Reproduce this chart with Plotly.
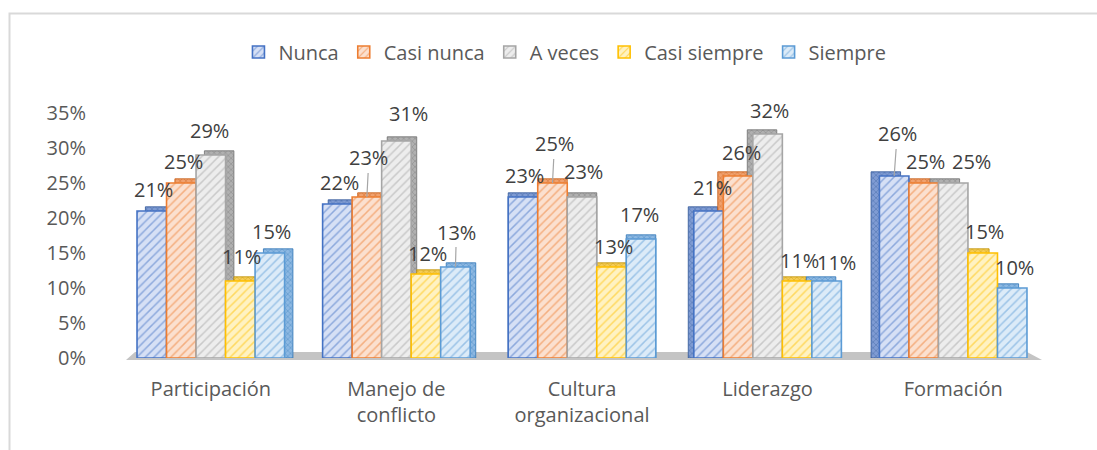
import plotly.graph_objects as go

# ---------------- data ----------------
categories = ["Participación", "Manejo de<br>conflicto", "Cultura<br>organizacional",
              "Liderazgo", "Formación"]
series_names = ["Nunca", "Casi nunca", "A veces", "Casi siempre", "Siempre"]
nunca = [21, 22, 23, 21, 26]
casi_nunca = [25, 23, 25, 26, 25]
a_veces = [29, 31, 23, 32, 25]
casi_siempre = [11, 12, 13, 11, 15]
siempre = [15, 13, 17, 11, 10]
y_tick_values = [0, 5, 10, 15, 20, 25, 30, 35]

series_values = [nunca, casi_nunca, a_veces, casi_siempre, siempre]

# ---------------- style ----------------
W, H = 1097, 450
line_colors = ["#4472C4", "#ED7D31", "#A5A5A5", "#FFC000", "#5B9BD5"]
fill_colors = ["#D6E0F5", "#FBE0CF", "#EDEDED", "#FFF2C2", "#DCEBF8"]
side_bg = ["#7F9BD3", "#F0A16E", "#B0B0B0", "#F5CC55", "#8DB8E2"]
side_fg = ["#2F5597", "#C55A11", "#6F6F6F", "#BF9000", "#2E75B6"]
FONT = "Open Sans"
TXT = "#404040"
TICK = "#595959"

x_left_px, x_right_px = 118, 1046
y_base_px, y_top_px = 358, 113
bargap = 0.205
n_cat = len(categories)
n_ser = len(series_names)
cat_px = (x_right_px - x_left_px) / n_cat
bar_w = (1 - bargap) / n_ser            # in category units
bar_px = cat_px * bar_w
depth_val = 0.6                           # top-face depth (axis units)
side_shift = [0.045, 0.03, 0.0, -0.03, -0.045]  # 3D side direction per category

fig = go.Figure()
# 3D faces (drawn behind the fronts)
for i, name in enumerate(series_names):
    base_off = -(1 - bargap) / 2 + i * bar_w
    fig.add_trace(go.Bar(
        name=name + " 3d", x=categories,
        y=[v + depth_val for v in series_values[i]],
        width=bar_w, offset=[base_off + s for s in side_shift],
        marker=dict(color=side_bg[i], line=dict(color=side_fg[i], width=0.8),
                    pattern=dict(shape="x", fgcolor=side_fg[i], bgcolor=side_bg[i],
                                 size=4, solidity=0.3, fillmode="overlay")),
        showlegend=False, hoverinfo="skip",
    ))
# front faces
for i, name in enumerate(series_names):
    base_off = -(1 - bargap) / 2 + i * bar_w
    fig.add_trace(go.Bar(
        name=name, x=categories, y=series_values[i],
        width=bar_w, offset=base_off,
        marker=dict(
            color=fill_colors[i],
            line=dict(color=line_colors[i], width=1.6),
            pattern=dict(shape="/", fgcolor=line_colors[i], bgcolor=fill_colors[i],
                         size=6, solidity=0.25, fillmode="overlay"),
        ),
        hoverinfo="skip",
    ))

# label placement tweaks (presentation only): (category idx, series idx) -> (dx, dy, leader)
label_tweaks = {
    (1, 1): (2, -39, True),
    (1, 4): (1, -35, True),
    (2, 1): (2, -39, True),
    (4, 0): (3, -42, True),
    (1, 2): (12, -27, False),
    (3, 4): (10, -19, False),
    (4, 2): (18, -21, False),
    (0, 2): (-1, -24, False),
    (0, 3): (1, -25, False),
    (2, 2): (1, -25, False),
    (2, 4): (-2, -24, False),
    (3, 0): (4, -23, False),
    (3, 1): (3, -23, False),
    (3, 2): (2, -23, False),
}

annotations = []
for i in range(n_ser):
    for j in range(n_cat):
        v = series_values[i][j]
        dx, dy, leader = label_tweaks.get((j, i), (2, -21, False))
        base = dict(x=categories[j], y=v, xref="x", yref="y",
                    text=f"{v}%", font=dict(family=FONT, size=20, color=TXT),
                    xshift=(i - (n_ser - 1) / 2) * bar_px)
        if leader:
            base.update(showarrow=True, ax=dx, ay=dy, arrowhead=0, arrowwidth=1.2,
                        arrowcolor="#A6A6A6", standoff=0, startstandoff=0)
        else:
            base.update(showarrow=False, xshift=base["xshift"] + dx, yshift=-dy)
        annotations.append(base)

# floor and border decorations
def px(xp):
    return xp / W

def py(yp):
    return 1 - yp / H

shapes = [
    dict(type="path", xref="paper", yref="paper",
         path=f"M {px(126)} {py(360)} L {px(1042)} {py(360)} "
              f"L {px(1027)} {py(352)} L {px(135)} {py(352)} Z",
         fillcolor="#C4C4C4", line=dict(width=0), layer="below"),
    dict(type="rect", xref="paper", yref="paper",
         x0=px(9.5), x1=1.02, y0=-0.05, y1=py(13.5),
         line=dict(color="#D9D9D9", width=2), fillcolor="rgba(0,0,0,0)", layer="below"),
]

fig.update_layout(
    width=W, height=H,
    margin=dict(l=0, r=0, t=0, b=0, autoexpand=False),
    paper_bgcolor="white", plot_bgcolor="rgba(0,0,0,0)",
    barmode="overlay",
    font=dict(family=FONT, size=20, color=TICK),
    showlegend=True,
    legend=dict(orientation="h", x=0.515, xanchor="center", y=py(52), yanchor="middle",
                font=dict(family=FONT, size=20, color=TICK), itemwidth=30,
                bgcolor="rgba(0,0,0,0)", traceorder="normal"),
    xaxis=dict(domain=[px(x_left_px), px(x_right_px)], type="category",
               range=[-0.5, n_cat - 0.5],
               showgrid=False, showline=False, zeroline=False, ticks="",
               tickfont=dict(family=FONT, size=20, color=TICK),
               ticklabelstandoff=17, automargin=False),
    yaxis=dict(domain=[py(y_base_px), py(y_top_px)], range=[0, 35],
               tickvals=y_tick_values, ticktext=[f"{t}%" for t in y_tick_values],
               showgrid=False, showline=False, zeroline=False, ticks="",
               tickfont=dict(family=FONT, size=20, color=TICK),
               ticklabelstandoff=31, automargin=False),
    annotations=annotations,
    shapes=shapes,
)

fig.write_html("out.html", config={"displayModeBar": False},
               post_script="document.body.style.margin='0px';")
